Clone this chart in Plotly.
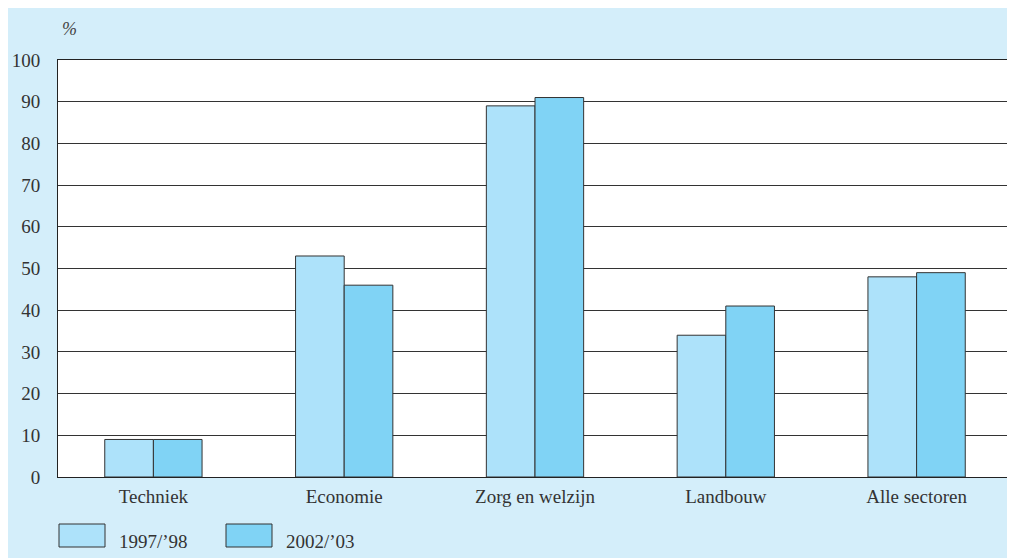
import plotly.graph_objects as go

categories = ["Techniek", "Economie", "Zorg en welzijn", "Landbouw", "Alle sectoren"]
series_names = ["1997/\u201998", "2002/\u201903"]
values_9798 = [9, 53, 89, 34, 48]
values_0203 = [9, 46, 91, 41, 49]

COLORS = ["#ade2fa", "#80d3f5"]
PANEL = "#d4eefa"
FONT = "Liberation Serif, DejaVu Serif, serif"

# page has an 8px body margin, so figure pixels = screen pixels - 8
FW, FH = 1007, 550
L, R, T, B = 50, 3, 52, 81
W, H = FW - L - R, FH - T - B


def px(x):
    # screen x -> paper x
    return (x - 8 - L) / W


def py(y):
    # screen y -> paper y
    return (T + H - (y - 8)) / H


fig = go.Figure()
for name, vals, col in zip(series_names, [values_9798, values_0203], COLORS):
    fig.add_trace(
        go.Bar(
            x=categories,
            y=vals,
            name=name,
            marker=dict(color=col, line=dict(color="#333333", width=1)),
        )
    )

shapes = []
annotations = [
    dict(
        text="<i>%</i>", xref="paper", yref="paper", x=px(60), y=py(29),
        xanchor="left", yanchor="middle", showarrow=False,
        font=dict(family=FONT, size=18, color="#444444"),
    )
]
# manual legend
for i, (name, col) in enumerate(zip(series_names, COLORS)):
    x0 = [59, 226][i]
    shapes.append(
        dict(
            type="rect", xref="paper", yref="paper",
            x0=px(x0), x1=px(x0 + 46), y0=py(547), y1=py(524),
            fillcolor=col, line=dict(color="#333333", width=1),
        )
    )
    annotations.append(
        dict(
            text=name, xref="paper", yref="paper", x=px(x0 + 58), y=py(541),
            xanchor="left", yanchor="middle", showarrow=False,
            font=dict(family=FONT, size=19, color="#333333"),
        )
    )

fig.update_layout(
    width=FW,
    height=FH,
    margin=dict(l=L, r=R, t=T, b=B),
    paper_bgcolor=PANEL,
    plot_bgcolor="white",
    barmode="group",
    bargap=0.49,
    bargroupgap=0,
    showlegend=False,
    font=dict(family=FONT, size=19, color="#333333"),
    shapes=shapes,
    annotations=annotations,
    xaxis=dict(
        showline=True, linecolor="#222222", mirror=True, linewidth=1,
        ticks="outside", ticklen=2, tickcolor="rgba(0,0,0,0)",
        showgrid=False,
    ),
    yaxis=dict(
        range=[0, 100], dtick=10, tick0=0,
        showline=True, linecolor="#222222", mirror=True, linewidth=1,
        showgrid=True, gridcolor="#333333", gridwidth=1,
        zeroline=False,
        ticks="outside", ticklen=13, tickcolor="rgba(0,0,0,0)",
    ),
)

fig.write_html("out.html")
